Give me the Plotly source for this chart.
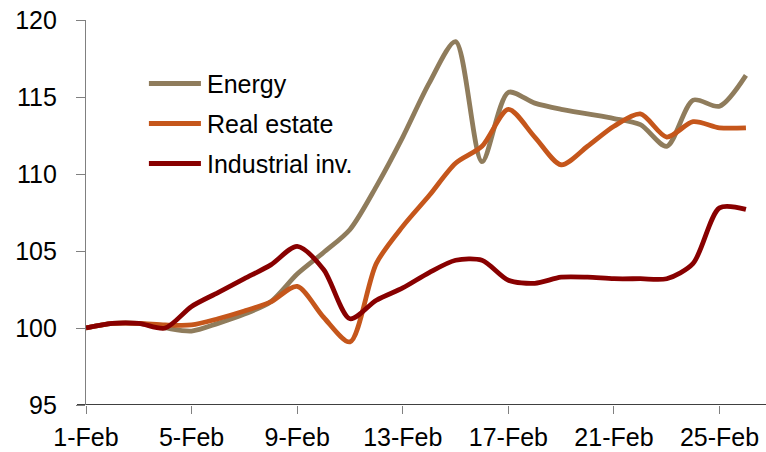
import plotly.graph_objects as go
import pandas as pd

# Daily index values, 1 Feb = 100
dates = pd.date_range("2019-02-01", "2019-02-26", freq="D")
energy = [100.0, 100.3, 100.3, 100.0, 99.8, 100.3, 100.9, 101.7, 103.5, 104.9,
          106.4, 109.2, 112.4, 115.9, 118.6, 110.8, 115.3, 114.6, 114.2, 113.9,
          113.6, 113.2, 111.8, 114.8, 114.4, 116.4]
real_estate = [100.0, 100.3, 100.3, 100.2, 100.2, 100.6, 101.1, 101.7, 102.7, 100.7,
               99.1, 104.2, 106.6, 108.6, 110.7, 111.8, 114.2, 112.4, 110.6, 111.8,
               113.1, 113.9, 112.4, 113.4, 113.0, 113.0]
industrial = [100.0, 100.3, 100.3, 100.0, 101.4, 102.3, 103.2, 104.1, 105.3, 103.8,
              100.6, 101.8, 102.6, 103.6, 104.4, 104.4, 103.1, 102.9, 103.3, 103.3,
              103.2, 103.2, 103.2, 104.2, 107.8, 107.7]

series_names = ["Energy", "Real estate", "Industrial inv."]
series_values = [energy, real_estate, industrial]
colors = ["#8F7C5C", "#C5561B", "#880000"]

tick_dates = pd.date_range("2019-02-01", "2019-02-25", freq="4D")
y_ticks = [95, 100, 105, 110, 115, 120]

FONT = "Liberation Sans, Arial, sans-serif"

fig = go.Figure()
for name, vals, col in zip(series_names, series_values, colors):
    fig.add_trace(go.Scatter(
        x=dates, y=vals, name=name, mode="lines",
        line=dict(color=col, width=4.8, shape="spline", smoothing=0.8),
        showlegend=False,
    ))

# Legend drawn as short line samples with labels
shapes = []
annotations = []
for i, (name, col) in enumerate(zip(series_names, colors)):
    yp = 0.835 - i * 0.104
    shapes.append(dict(type="line", xref="paper", yref="paper",
                       x0=0.0925, x1=0.169, y0=yp, y1=yp,
                       line=dict(color=col, width=5)))
    annotations.append(dict(xref="paper", yref="paper", x=0.175, y=yp,
                            text=name, showarrow=False, xanchor="left",
                            yanchor="middle",
                            font=dict(family=FONT, size=25, color="#000000")))

# Black baseline that reaches slightly past the y axis
shapes.append(dict(type="line", xref="paper", yref="y", x0=-9 / 680, x1=1,
                   y0=95, y1=95, line=dict(color="#000000", width=1.3),
                   layer="below"))

x_start = pd.Timestamp("2019-02-01")
x_end = x_start + pd.Timedelta(days=25.76)

fig.update_layout(
    width=766, height=452,
    margin=dict(l=86, r=0, t=20, b=47),
    paper_bgcolor="white", plot_bgcolor="white",
    font=dict(family=FONT, size=25, color="#000000"),
    shapes=shapes, annotations=annotations,
    xaxis=dict(
        range=[x_start, x_end], tickvals=tick_dates, tickformat="%-d-%b",
        showgrid=False, zeroline=False, showline=False,
        ticks="outside", ticklen=8, tickcolor="#808080", tickwidth=1.3,
        tickfont=dict(family=FONT, size=25), ticklabelstandoff=2,
    ),
    yaxis=dict(
        range=[95, 120], tickvals=y_ticks,
        showgrid=False, zeroline=False, showline=True,
        linecolor="#808080", linewidth=1.3,
        ticks="outside", ticklen=9, tickcolor="#808080", tickwidth=1.3,
        tickfont=dict(family=FONT, size=25), ticklabelstandoff=14,
    ),
)

fig.write_html("out.html")
